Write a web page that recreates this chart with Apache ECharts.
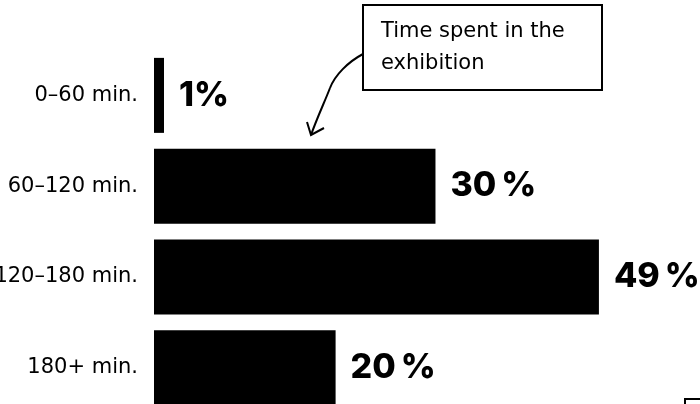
<!DOCTYPE html>
<html>
<head>
<meta charset="utf-8">
<script src="https://cdn.jsdelivr.net/npm/echarts@6/dist/echarts.min.js"></script>
<style>
html,body{margin:0;padding:0;background:#fff;}
#chart{width:700px;height:404px;}
</style>
</head>
<body>
<div id="chart"></div>
<script>
// Data
const categories = ['0–60 min.', '60–120 min.', '120–180 min.', '180+ min.'];
const values = [1.1, 31, 49, 20];
const valueLabels = ['1%', '30\u2009%', '49\u2009%', '20\u2009%'];
const annotationText = 'Time spent in the\nexhibition';

const FONT = '"DejaVu Sans", sans-serif';
const BOLD_FONT = 'Inter, "Noto Sans", sans-serif';
const chart = echarts.init(document.getElementById('chart'), null, {renderer: 'canvas'});

chart.setOption({
  backgroundColor: '#ffffff',
  animation: false,
  grid: {
    left: 154, top: 50, width: 454, height: 363,
    containLabel: false, outerBoundsMode: 'none'
  },
  xAxis: {
    type: 'value', min: 0, max: 50, show: false
  },
  yAxis: {
    type: 'category', data: categories, inverse: true,
    axisLine: {show: false}, axisTick: {show: false}, splitLine: {show: false},
    axisLabel: {color: '#000', fontSize: 21, fontFamily: FONT, margin: 16}
  },
  series: [{
    type: 'bar',
    data: values,
    barWidth: 75,
    itemStyle: {color: '#000'},
    label: {
      show: true, position: 'right', distance: 15,
      formatter: p => valueLabels[p.dataIndex],
      color: '#000', fontSize: 34, fontWeight: 800, fontFamily: BOLD_FONT
    }
  }],
  graphic: [
    {
      type: 'rect', shape: {x: 363, y: 5, width: 239, height: 85},
      style: {fill: '#fff', stroke: '#000', lineWidth: 2}, z: 10
    },
    {
      type: 'text', x: 381, y: 16, z: 11,
      style: {text: annotationText, fill: '#000', fontSize: 21, fontFamily: FONT, lineHeight: 32, textVerticalAlign: 'top'}
    },
    {
      type: 'bezierCurve', z: 10,
      shape: {x1: 363, y1: 54, cpx1: 348, cpy1: 62, cpx2: 335, cpy2: 75, x2: 330, y2: 88},
      style: {fill: null, stroke: '#000', lineWidth: 2}
    },
    {
      type: 'bezierCurve', z: 10,
      shape: {x1: 330, y1: 88, cpx1: 325, cpy1: 101, cpx2: 317, cpy2: 118, x2: 311, y2: 135},
      style: {fill: null, stroke: '#000', lineWidth: 2}
    },
    {
      type: 'polyline', z: 10,
      shape: {points: [[307, 122], [311, 135], [324, 128]]},
      style: {fill: null, stroke: '#000', lineWidth: 2}
    },
    {
      type: 'rect', shape: {x: 685, y: 399, width: 40, height: 30},
      style: {fill: '#fff', stroke: '#000', lineWidth: 2}, z: 10
    }
  ]
});
</script>
</body>
</html>
